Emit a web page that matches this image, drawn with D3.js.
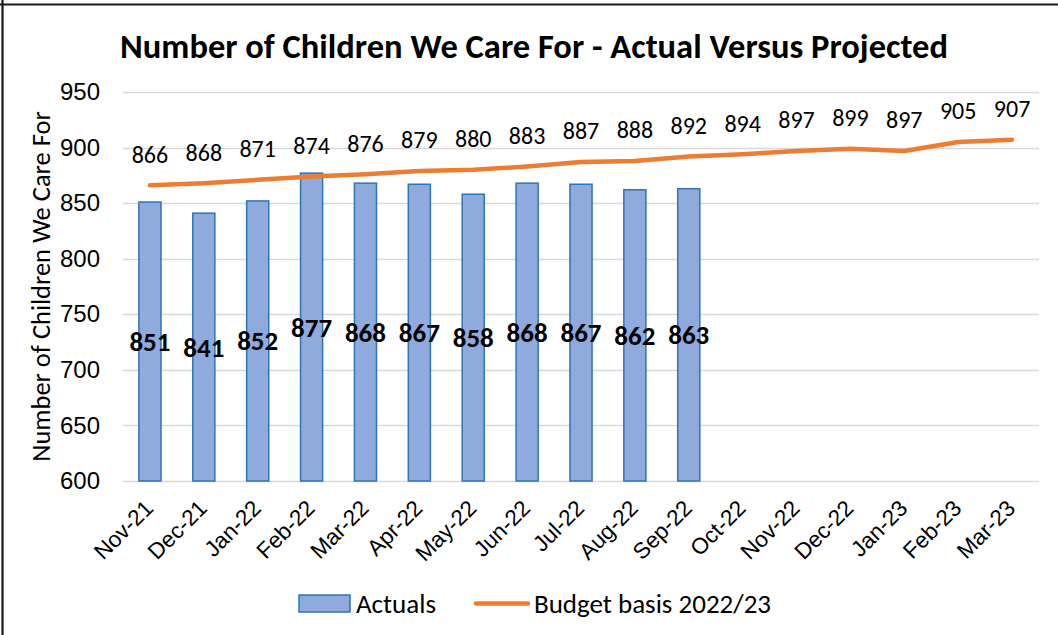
<!DOCTYPE html>
<html>
<head>
<meta charset="utf-8">
<script src="https://cdn.jsdelivr.net/npm/d3@7/dist/d3.min.js"></script>
<style>
  html, body { margin: 0; padding: 0; background: #fff; }
  svg { display: block; font-family: Carlito, Calibri, "Liberation Sans Narrow", "Liberation Sans", sans-serif; }
</style>
</head>
<body>
<svg id="chart" width="1058" height="635"></svg>
<script>
// Months shown on the category axis
const months = ["Nov-21","Dec-21","Jan-22","Feb-22","Mar-22","Apr-22","May-22","Jun-22",
                "Jul-22","Aug-22","Sep-22","Oct-22","Nov-22","Dec-22","Jan-23","Feb-23","Mar-23"];
// Actual number of children cared for (months reported so far)
const actuals = [851, 841, 852, 877, 868, 867, 858, 868, 867, 862, 863];
// Budget basis 2022/23 projection
const budget = [866, 868, 871, 874, 876, 879, 880, 883, 887, 888, 892, 894, 897, 899, 897, 905, 907];
// Value axis ticks
const yTicks = [600, 650, 700, 750, 800, 850, 900, 950];

const svg = d3.select("#chart");
const W = 1058, H = 635;
const plot = { left: 123, right: 1039, top: 92, bottom: 481 };

// Frame lines along the top and left edges
svg.append("line").attr("x1", 0).attr("x2", W).attr("y1", 4.5).attr("y2", 4.5)
  .attr("stroke", "#1a1a1a").attr("stroke-width", 2.2);
svg.append("line").attr("x1", 2.5).attr("x2", 2.5).attr("y1", 0).attr("y2", H)
  .attr("stroke", "#1a1a1a").attr("stroke-width", 2.2);

const x = d3.scaleBand().domain(months).range([plot.left, plot.right])
  .paddingInner(0.59).paddingOuter(0.295);
const y = d3.scaleLinear().domain([600, 950]).range([plot.bottom, plot.top]);
const cx = d => x(d) + x.bandwidth() / 2;

// Title
svg.append("text").attr("x", 534).attr("y", 58).attr("text-anchor", "middle")
  .attr("font-size", 34.5).attr("font-weight", "bold").attr("fill", "#000")
  .text("Number of Children We Care For - Actual Versus Projected");

// Gridlines
svg.append("g").selectAll("line").data(yTicks).join("line")
  .attr("x1", plot.left).attr("x2", plot.right)
  .attr("y1", d => Math.round(y(d)) + 0.5).attr("y2", d => Math.round(y(d)) + 0.5)
  .attr("stroke", "#d9d9d9").attr("stroke-width", 1.5);

// Y axis labels
const yAxis = d3.axisLeft(y).tickValues(yTicks).tickSize(0).tickPadding(0);
const gy = svg.append("g").attr("transform", `translate(100,0)`).call(yAxis);
gy.select(".domain").remove();
gy.selectAll("text").attr("font-size", 24).attr("fill", "#000")
  .attr("font-family", "inherit");

// Y axis title
svg.append("text").attr("transform", `translate(50,${(109 + 462) / 2 + 1}) rotate(-90)`)
  .attr("text-anchor", "middle").attr("font-size", 26.5).attr("fill", "#000")
  .text("Number of Children We Care For");

// X axis labels
const xAxis = d3.axisBottom(x).tickSize(0).tickPadding(0);
const gx = svg.append("g").attr("transform", `translate(0,${plot.bottom})`).call(xAxis);
gx.select(".domain").remove();
gx.selectAll("text")
  .attr("font-size", 22.5).attr("fill", "#000").attr("font-family", "inherit")
  .attr("text-anchor", "end").attr("dy", "0.35em")
  .attr("transform", "translate(-1,23) rotate(-45)")
  .attr("y", 0).attr("x", 0);

// Bars
const actualData = actuals.map((v, i) => ({ m: months[i], v }));
svg.append("g").selectAll("rect").data(actualData).join("rect")
  .attr("x", d => x(d.m)).attr("width", x.bandwidth())
  .attr("y", d => y(d.v)).attr("height", d => y(600) - y(d.v))
  .attr("fill", "#8faadc").attr("stroke", "#2e75b6").attr("stroke-width", 1.5);

// Budget line
const budgetData = budget.map((v, i) => ({ m: months[i], v }));
svg.append("path").datum(budgetData)
  .attr("d", d3.line().x(d => cx(d.m)).y(d => y(d.v)))
  .attr("fill", "none").attr("stroke", "#ed7d31").attr("stroke-width", 4.5)
  .attr("stroke-linecap", "round").attr("stroke-linejoin", "round");

// Budget labels above the line
svg.append("g").selectAll("text").data(budgetData).join("text")
  .attr("x", d => cx(d.m)).attr("y", d => y(d.v) - 31).attr("dy", "0.35em")
  .attr("text-anchor", "middle").attr("font-size", 24).attr("fill", "#000")
  .text(d => d.v);

// Actual labels centred within bars
svg.append("g").selectAll("text").data(actualData).join("text")
  .attr("x", d => cx(d.m)).attr("y", d => (y(d.v) + y(600)) / 2).attr("dy", "0.35em")
  .attr("text-anchor", "middle").attr("font-size", 27).attr("font-weight", "bold").attr("fill", "#000")
  .text(d => d.v);

// Legend
const lg = svg.append("g");
lg.append("rect").attr("x", 299).attr("y", 595).attr("width", 51).attr("height", 17)
  .attr("fill", "#8faadc").attr("stroke", "#2e75b6").attr("stroke-width", 1.5);
lg.append("text").attr("x", 356).attr("y", 604).attr("dy", "0.35em")
  .attr("font-size", 27).attr("fill", "#000").text("Actuals");
lg.append("line").attr("x1", 476).attr("x2", 528).attr("y1", 603.5).attr("y2", 603.5)
  .attr("stroke", "#ed7d31").attr("stroke-width", 4.5).attr("stroke-linecap", "round");
lg.append("text").attr("x", 534).attr("y", 604).attr("dy", "0.35em")
  .attr("font-size", 27).attr("fill", "#000").text("Budget basis 2022/23");
</script>
</body>
</html>
